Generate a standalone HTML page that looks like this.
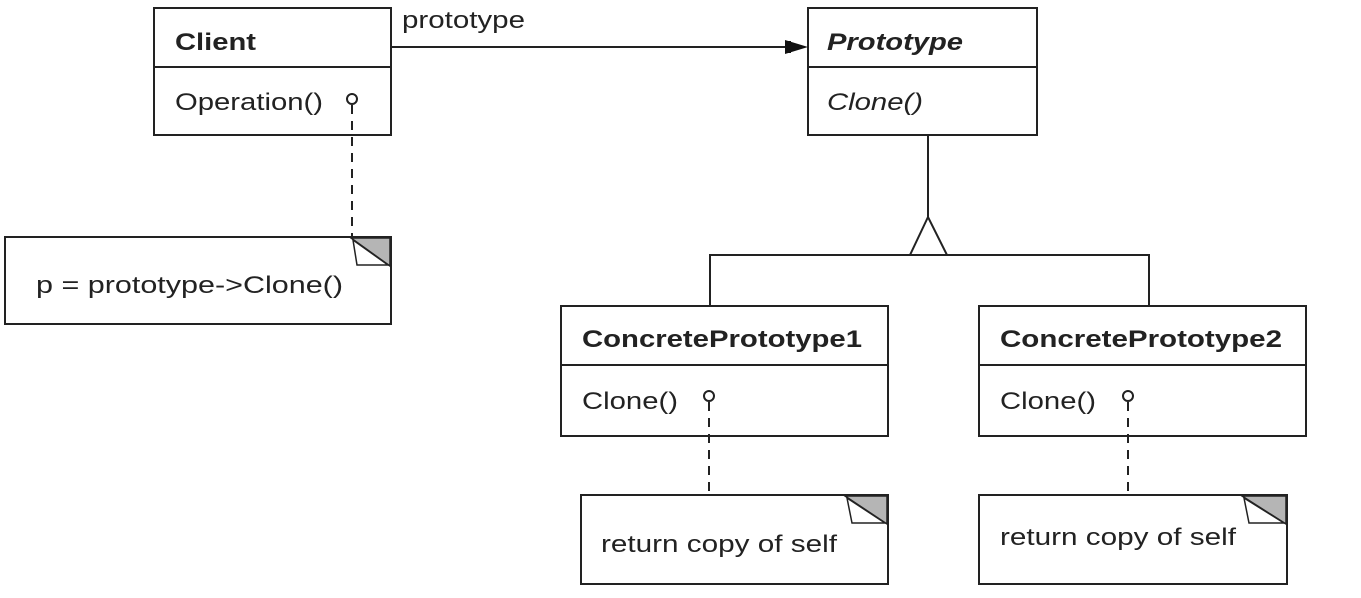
<!DOCTYPE html>
<html><head><meta charset="utf-8"><style>
html,body{margin:0;padding:0;background:#fff;}
svg{display:block;}
text{font-family:"Liberation Sans",Arial,sans-serif;font-size:24px;fill:#222;}
</style></head><body>
<svg width="1361" height="598" viewBox="0 0 1361 598" xmlns="http://www.w3.org/2000/svg">
<g stroke="#222" stroke-width="2" fill="none">
  <!-- Client -->
  <rect x="154" y="8" width="237" height="127"/>
  <line x1="154" y1="67" x2="391" y2="67"/>
  <!-- Prototype -->
  <rect x="808" y="8" width="229" height="127"/>
  <line x1="808" y1="67" x2="1037" y2="67"/>
  <!-- association -->
  <line x1="391" y1="47" x2="790" y2="47"/>
  <!-- inheritance -->
  <line x1="928" y1="135" x2="928" y2="217"/>
  <polygon points="928,217 910,255 947,255" fill="#fff"/>
  <polyline points="710,305 710,255 1149,255 1149,305"/>
  <!-- CP1 -->
  <rect x="561" y="306" width="327" height="130"/>
  <line x1="561" y1="365" x2="888" y2="365"/>
  <!-- CP2 -->
  <rect x="979" y="306" width="327" height="130"/>
  <line x1="979" y1="365" x2="1306" y2="365"/>
  <!-- notes -->
  <rect x="5" y="237" width="386" height="87"/>
  <rect x="581" y="495" width="307" height="89"/>
  <rect x="979" y="495" width="308" height="89"/>
  <!-- dashed -->
  <g stroke-dasharray="9,7">
    <line x1="352" y1="105" x2="352" y2="237"/>
    <line x1="709" y1="402" x2="709" y2="495"/>
    <line x1="1128" y1="402" x2="1128" y2="495"/>
  </g>
  <circle cx="352" cy="99" r="5" fill="#fff"/>
  <circle cx="709" cy="396" r="5" fill="#fff"/>
  <circle cx="1128" cy="396" r="5" fill="#fff"/>
</g>
<!-- arrowhead -->
<polygon points="785,40 808,47 785,54" fill="#111"/>
<rect x="785" y="41" width="6" height="12" fill="#111"/>
<!-- folded corners -->
<g stroke="#222" stroke-width="1.5">
  <polygon points="351,238 390,238 390,266" fill="#b5b5b5"/>
  <polygon points="353,240 357,265 388,265" fill="#fff"/>
  <polygon points="845,496 887,496 887,524" fill="#b5b5b5"/>
  <polygon points="847,498 852,523 885,523" fill="#fff"/>
  <polygon points="1242,496 1286,496 1286,524" fill="#b5b5b5"/>
  <polygon points="1244,498 1249,523 1284,523" fill="#fff"/>
</g>
<text x="175" y="50" font-weight="bold" textLength="81" lengthAdjust="spacingAndGlyphs">Client</text>
<text x="175" y="110" textLength="148" lengthAdjust="spacingAndGlyphs">Operation()</text>
<text x="402" y="28" textLength="123" lengthAdjust="spacingAndGlyphs">prototype</text>
<text x="827" y="50" font-weight="bold" font-style="italic" textLength="136" lengthAdjust="spacingAndGlyphs">Prototype</text>
<text x="827" y="110" font-style="italic" textLength="96" lengthAdjust="spacingAndGlyphs">Clone()</text>
<text x="582" y="347" font-weight="bold" textLength="280" lengthAdjust="spacingAndGlyphs">ConcretePrototype1</text>
<text x="582" y="409" textLength="96" lengthAdjust="spacingAndGlyphs">Clone()</text>
<text x="1000" y="347" font-weight="bold" textLength="282" lengthAdjust="spacingAndGlyphs">ConcretePrototype2</text>
<text x="1000" y="409" textLength="96" lengthAdjust="spacingAndGlyphs">Clone()</text>
<text x="36" y="293" textLength="307" lengthAdjust="spacingAndGlyphs">p = prototype-&gt;Clone()</text>
<text x="601" y="552" textLength="236" lengthAdjust="spacingAndGlyphs">return copy of self</text>
<text x="1000" y="545" textLength="236" lengthAdjust="spacingAndGlyphs">return copy of self</text>
</svg>
</body></html>
